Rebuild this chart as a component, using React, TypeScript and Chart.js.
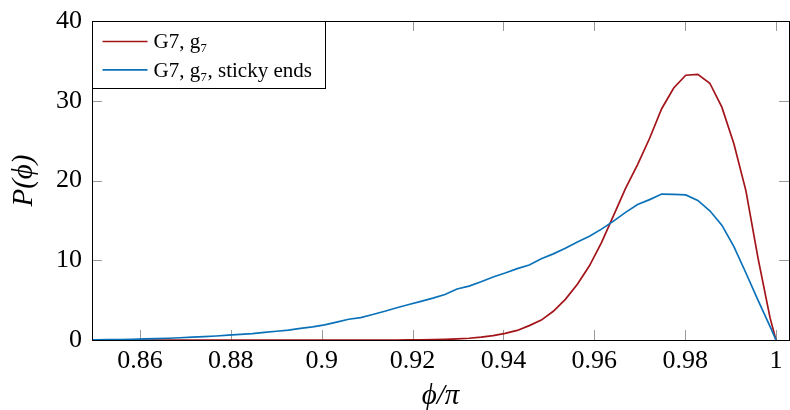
import React, { useEffect, useRef } from 'react';
import { Chart, registerables } from 'chart.js';

Chart.register(...registerables);

// phi / pi (bin centres) — ascending
const phi = [
  0.84763, 0.85028, 0.85293, 0.85558, 0.85823, 0.86088, 0.86353, 0.86618, 0.86883, 0.87148,
  0.87413, 0.87678, 0.87943, 0.88208, 0.88473, 0.88738, 0.89003, 0.89268, 0.89533, 0.89798,
  0.90063, 0.90328, 0.90593, 0.90858, 0.91123, 0.91388, 0.91653, 0.91918, 0.92183, 0.92448,
  0.92713, 0.92978, 0.93243, 0.93508, 0.93773, 0.94038, 0.94303, 0.94568, 0.94833, 0.95098,
  0.95363, 0.95628, 0.95893, 0.96158, 0.96423, 0.96688, 0.96953, 0.97218, 0.97483, 0.97748,
  0.98013, 0.98278, 0.98543, 0.98808, 0.99073, 0.99338, 0.99603, 0.99868, 1.0,
];

// P(phi) for G7, g7
const pG7 = [
  0, 0, 0, 0, 0, 0, 0, 0, 0, 0,
  0, 0, 0, 0, 0, 0, 0, 0, 0, 0,
  0, 0, 0, 0, 0, 0, 0, 0.01, 0.02, 0.04,
  0.07, 0.13, 0.22, 0.35, 0.55, 0.84, 1.2, 1.8, 2.5, 3.6,
  5.1, 7.0, 9.3, 12.2, 15.6, 19.0, 22.0, 25.3, 29.0, 31.6,
  33.2, 33.3, 32.2, 29.2, 24.6, 18.7, 10.3, 2.8, 0,
];

// P(phi) for G7, g7, sticky ends
const pSticky = [
  0.01, 0.02, 0.04, 0.06, 0.09, 0.13, 0.17, 0.22, 0.28, 0.35,
  0.42, 0.5, 0.6, 0.7, 0.8, 0.95, 1.1, 1.25, 1.45, 1.65,
  1.9, 2.25, 2.6, 2.8, 3.2, 3.6, 4.05, 4.45, 4.85, 5.25,
  5.7, 6.4, 6.75, 7.3, 7.9, 8.4, 8.95, 9.4, 10.2, 10.8,
  11.5, 12.3, 13.0, 13.9, 14.9, 16.0, 17.0, 17.6, 18.3, 18.25,
  18.2, 17.5, 16.2, 14.4, 11.7, 8.4, 5.0, 1.7, 0,
];

const xTicks = [0.86, 0.88, 0.9, 0.92, 0.94, 0.96, 0.98, 1];
const yTicks = [0, 10, 20, 30, 40];
const seriesLabels = ['G7, g\u2087', 'G7, g\u2087, sticky ends'];
const seriesColors = ['#a3141a', '#0b72b9'];

const FONT = "'Liberation Serif', 'DejaVu Serif', serif";

export default function App() {
  const ref = useRef<HTMLCanvasElement>(null);

  useEffect(() => {
    const canvas = ref.current;
    if (!canvas) return;

    const decor = {
      id: 'decor',
      beforeDatasetsDraw(chart: any) {
        const { ctx, chartArea: a, scales } = chart;
        ctx.save();
        ctx.strokeStyle = '#9a9a9a';
        ctx.lineWidth = 1;
        ctx.beginPath();
        for (const v of xTicks) {
          const px = Math.round(scales.x.getPixelForValue(v)) + 0.5;
          ctx.moveTo(px, a.bottom);
          ctx.lineTo(px, a.bottom - 10);
          ctx.moveTo(px, a.top);
          ctx.lineTo(px, a.top + 10);
        }
        for (const v of yTicks) {
          const py = Math.round(scales.y.getPixelForValue(v)) + 0.5;
          ctx.moveTo(a.left, py);
          ctx.lineTo(a.left + 10, py);
          ctx.moveTo(a.right, py);
          ctx.lineTo(a.right - 10, py);
        }
        ctx.stroke();
        ctx.restore();
      },
      afterDatasetsDraw(chart: any) {
        const { ctx, chartArea: a } = chart;
        ctx.save();
        ctx.strokeStyle = '#000';
        ctx.lineWidth = 1;
        ctx.strokeRect(Math.round(a.left) + 0.5, Math.round(a.top) + 0.5,
          Math.round(a.right - a.left), Math.round(a.bottom - a.top));
        ctx.restore();
      },
      afterDraw(chart: any) {
        const { ctx, chartArea: a } = chart;
        const ds = chart.data.datasets;
        ctx.save();
        ctx.font = `21px ${FONT}`;
        let maxW = 0;
        ds.forEach((d: any) => { maxW = Math.max(maxW, ctx.measureText(d.label).width); });
        const x0 = Math.round(a.left) + 0.5;
        const y0 = Math.round(a.top) + 0.5;
        const textX = x0 + 61;
        const w = Math.round(61 + maxW + 14);
        const h = 67;
        ctx.fillStyle = '#fff';
        ctx.fillRect(x0, y0, w, h);
        ctx.strokeStyle = '#000';
        ctx.lineWidth = 1;
        ctx.strokeRect(x0, y0, w, h);
        ds.forEach((d: any, i: number) => {
          const cy = y0 + 20 + i * 28.3;
          ctx.strokeStyle = d.borderColor;
          ctx.lineWidth = d.borderWidth;
          ctx.beginPath();
          ctx.moveTo(x0 + 10, cy);
          ctx.lineTo(x0 + 55, cy);
          ctx.stroke();
          ctx.fillStyle = '#000';
          ctx.textBaseline = 'alphabetic';
          ctx.textAlign = 'left';
          ctx.fillText(d.label, textX, cy + 6.8);
        });
        ctx.restore();
      },
    };

    const chart = new Chart(canvas, {
      type: 'line',
      data: {
        datasets: [
          {
            label: seriesLabels[0],
            data: phi.map((x, i) => ({ x, y: pG7[i] })),
            borderColor: seriesColors[0],
            borderWidth: 1.7,
            pointRadius: 0,
            fill: false,
            tension: 0,
            order: 1,
          },
          {
            label: seriesLabels[1],
            data: phi.map((x, i) => ({ x, y: pSticky[i] })),
            borderColor: seriesColors[1],
            borderWidth: 1.7,
            pointRadius: 0,
            fill: false,
            tension: 0,
            order: 0,
          },
        ],
      },
      options: {
        responsive: false,
        animation: false,
        devicePixelRatio: 1,
        layout: { padding: { top: 21, right: 1, bottom: 0, left: 0 } },
        plugins: {
          legend: { display: false },
          tooltip: { enabled: false },
        },
        scales: {
          x: {
            type: 'linear',
            min: 0.84943,
            max: 1.00286,
            grid: { display: false, drawTicks: false },
            border: { display: false },
            afterBuildTicks: (scale: any) => {
              scale.ticks = xTicks.map((v) => ({ value: v }));
            },
            afterFit: (scale: any) => {
              scale.height = 70;
              scale.paddingLeft = 0;
              scale.paddingRight = 0;
            },
            ticks: {
              autoSkip: false,
              maxRotation: 0,
              padding: 6,
              color: '#000',
              font: { family: FONT, size: 26 },
              callback: (v: any) => String(Number(Number(v).toFixed(2))),
            },
            title: {
              display: true,
              text: 'ϕ/π',
              color: '#000',
              font: { family: FONT, size: 29, style: 'italic', lineHeight: 0.95 },
              padding: { top: 0, bottom: 0 },
            },
          },
          y: {
            type: 'linear',
            min: 0,
            max: 40,
            grid: { display: false, drawTicks: false },
            border: { display: false },
            afterBuildTicks: (scale: any) => {
              scale.ticks = yTicks.map((v) => ({ value: v }));
            },
            afterFit: (scale: any) => {
              scale.width = 92;
              scale.paddingTop = 0;
              scale.paddingBottom = 0;
            },
            ticks: {
              padding: 10,
              color: '#000',
              font: { family: FONT, size: 26 },
            },
            title: {
              display: true,
              text: 'P(ϕ)',
              color: '#000',
              font: { family: FONT, size: 29, style: 'italic' },
              padding: { top: 7, bottom: 0 },
            },
          },
        },
      },
      plugins: [decor],
    });

    return () => chart.destroy();
  }, []);

  return (
    <div style={{ position: 'absolute', left: 0, top: 0, width: 790, height: 410, background: '#fff' }}>
      <canvas ref={ref} width={790} height={410} style={{ display: 'block' }} />
    </div>
  );
}
